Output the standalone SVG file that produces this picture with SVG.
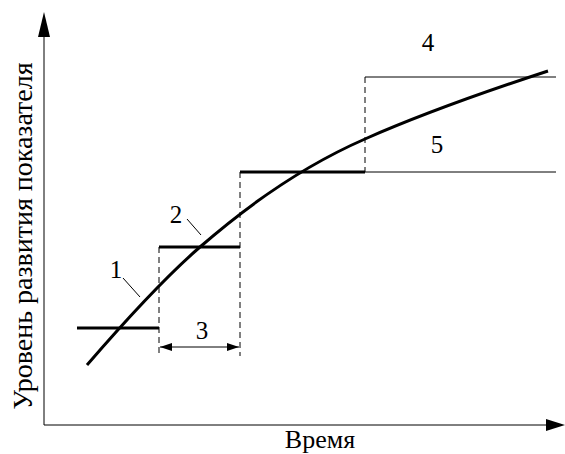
<svg xmlns="http://www.w3.org/2000/svg" width="565" height="454" viewBox="0 0 565 454">
<style>
.t{font-family:"Liberation Serif","Times New Roman",serif;font-size:25px;fill:#000}
.big{font-size:28px}
.mid{font-size:26px}
.thick{stroke:#000;stroke-width:3;fill:none}
.thin{stroke:#000;stroke-width:1;fill:none}
.dash{stroke:#000;stroke-width:1;fill:none;stroke-dasharray:6,4}
</style>
<defs>
<marker id="ah" markerWidth="12" markerHeight="8" refX="12" refY="4" orient="auto" markerUnits="userSpaceOnUse">
<path d="M0,0 L12,4 L0,8 Z" fill="#000"/>
</marker>
<marker id="ahs" markerWidth="12" markerHeight="8" refX="0" refY="4" orient="auto" markerUnits="userSpaceOnUse">
<path d="M12,0 L0,4 L12,8 Z" fill="#000"/>
</marker>
</defs>
<g id="axes">
<line class="thin" x1="44" y1="425" x2="44" y2="36"/>
<path d="M38,37 L44,12 L50,37 Z" fill="#000"/>
<line class="thin" x1="44" y1="425" x2="548" y2="425"/>
<path d="M546,419 L565,425 L546,431 Z" fill="#000"/>
</g>
<g id="y-label"><text class="t big" transform="translate(32,236) rotate(-90)" text-anchor="middle">Уровень развития показателя</text></g>
<g id="x-label"><text class="t mid" x="320" y="448" text-anchor="middle">Время</text></g>
<g id="steps">
<line class="thick" x1="77" y1="328" x2="159" y2="328"/>
<line class="thick" x1="159" y1="247" x2="240" y2="247"/>
<line class="thick" x1="240" y1="172" x2="365" y2="172"/>
<line class="thin" x1="365" y1="172" x2="556" y2="172"/>
<line class="thin" x1="365" y1="77" x2="556" y2="77"/>
</g>
<g id="connectors">
<line class="dash" x1="159" y1="247" x2="159" y2="356"/>
<line class="dash" x1="240" y1="172" x2="240" y2="356"/>
<line class="dash" x1="365" y1="77" x2="365" y2="172"/>
<line class="thin" x1="160" y1="347" x2="239" y2="347" marker-start="url(#ahs)" marker-end="url(#ah)"/>
<line class="thin" x1="123" y1="278" x2="140" y2="297"/>
<line class="thin" x1="187" y1="219" x2="201" y2="235"/>
</g>
<g id="curve"><path class="thick" d="M87,365 C125,321 162,280 200,247 C255,199 310,163 365,139 C426,112 487,91 548,71"/></g>
<g id="labels">
<text class="t" x="116" y="278" text-anchor="middle">1</text>
<text class="t" x="176" y="223" text-anchor="middle">2</text>
<text class="t" x="202" y="339" text-anchor="middle">3</text>
<text class="t" x="428" y="51" text-anchor="middle">4</text>
<text class="t" x="437" y="153" text-anchor="middle">5</text>
</g>
</svg>
